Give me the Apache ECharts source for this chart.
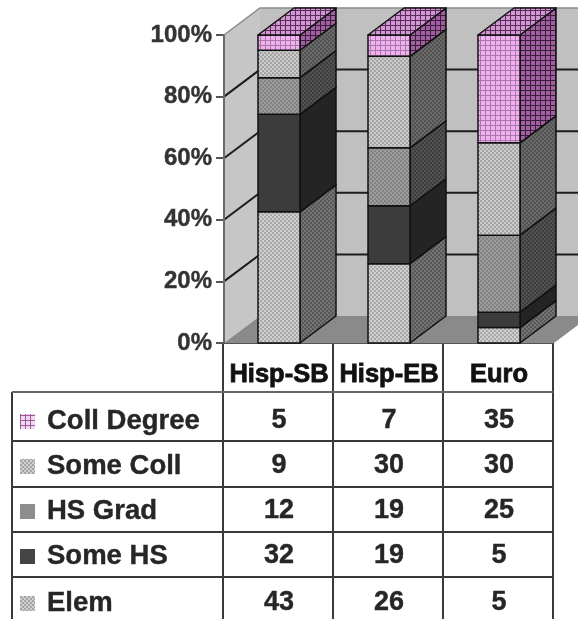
<!DOCTYPE html>
<html><head><meta charset="utf-8">
<style>html,body{margin:0;padding:0;background:#fff}#c{width:578px;height:619px;filter:blur(0.45px)}</style>
<script src="https://cdn.jsdelivr.net/npm/echarts@6/dist/echarts.min.js"></script>
</head><body><div id="c"></div>
<script>
var categories = ['Hisp-SB', 'Hisp-EB', 'Euro'];
var elem = [43, 26, 5];
var someHS = [32, 19, 5];
var hsGrad = [12, 19, 25];
var someColl = [9, 30, 30];
var collDegree = [5, 7, 35];
var yTicks = [0, 20, 40, 60, 80, 100];

function pat(bg, fg, kind) {
  var c = document.createElement('canvas');
  var n = kind === 'check' ? 5 : 4;
  c.width = n; c.height = n;
  var g = c.getContext('2d');
  g.fillStyle = bg; g.fillRect(0, 0, n, n);
  g.fillStyle = fg;
  if (kind === 'check') { g.fillRect(0, 0, n, 1); g.fillRect(0, 0, 1, n); }
  else if (kind === 'dots') { g.fillRect(0, 0, 2, 2); g.fillRect(2, 2, 2, 2); }
  return { image: c, repeat: 'repeat' };
}
var levels = [
  { name: 'Elem', values: elem, front: pat('#d0d0d0', '#a8a8a8', 'dots'), side: pat('#747474', '#585858', 'dots'), swatch: pat('#d0d0d0', '#a4a4a4', 'dots') },
  { name: 'Some HS', values: someHS, front: '#3c3c3c', side: '#242424', swatch: '#444444' },
  { name: 'HS Grad', values: hsGrad, front: pat('#9c9c9c', '#828282', 'dots'), side: pat('#525252', '#3e3e3e', 'dots'), swatch: '#8e8e8e' },
  { name: 'Some Coll', values: someColl, front: pat('#cccccc', '#a4a4a4', 'dots'), side: pat('#6a6a6a', '#525252', 'dots'), swatch: pat('#d0d0d0', '#a4a4a4', 'dots') },
  { name: 'Coll Degree', values: collDegree, front: pat('#f0b0f0', '#a878a8', 'check'), side: pat('#a060a0', '#3c1c3c', 'check'), top: pat('#d098d0', '#5a2a5a', 'check'), swatch: pat('#f0d8f0', '#9a5a9a', 'check') }
];

var GL = 224, GT = 35, GW = 330, GH = 308, DX = 36, DY = -27, BAR = 42;

function colSum(i) { return levels.reduce(function (s, l) { return s + l.values[i]; }, 0); }

function wallsRender(params, api) {
  var kids = [];
  var l = GL, r = GL + GW, t = api.coord([0, 100])[1], b = api.coord([0, 0])[1];
  var poly = function (pts, fill) { return { type: 'polygon', shape: { points: pts }, style: { fill: fill, lineWidth: 0 } }; };
  kids.push(poly([[l + DX, t + DY], [r + DX, t + DY], [r + DX, b + DY], [l + DX, b + DY]], '#c0c0c0'));
  kids.push(poly([[l, t], [l + DX, t + DY], [l + DX, b + DY], [l, b]], '#c6c6c6'));
  kids.push(poly([[l, b], [r, b], [r + DX, b + DY], [l + DX, b + DY]], '#8a8a8a'));
  yTicks.forEach(function (v) {
    if (v === 0) return;
    var y = api.coord([0, v])[1];
    var col = v === 100 ? '#8a8a8a' : '#1c1c1c', w = v === 100 ? 1.5 : 2;
    kids.push({ type: 'polyline', shape: { points: [[l, y], [l + DX, y + DY], [r + DX, y + DY]] }, style: { fill: null, stroke: col, lineWidth: w } });
  });
  kids.push({ type: 'line', shape: { x1: l, y1: t, x2: l, y2: b }, style: { stroke: '#6a6a6a', lineWidth: 2 } });
  return { type: 'group', children: kids };
}

function barRender(level, isTop) {
  return function (params, api) {
    var i = api.value(0), p0 = api.coord([i, api.value(1)]), p1 = api.coord([i, api.value(2)]);
    var x0 = p0[0] - BAR / 2, x1 = p0[0] + BAR / 2, yb = p0[1], yt = p1[1];
    var ln = { stroke: '#111', lineWidth: 1.5, lineJoin: 'round' };
    var face = function (pts, fill) { return { type: 'polygon', shape: { points: pts }, style: Object.assign({ fill: fill }, ln) }; };
    var kids = [
      face([[x1, yb], [x1 + DX, yb + DY], [x1 + DX, yt + DY], [x1, yt]], level.side),
      face([[x0, yb], [x1, yb], [x1, yt], [x0, yt]], level.front)
    ];
    if (isTop) kids.push(face([[x0, yt], [x1, yt], [x1 + DX, yt + DY], [x0 + DX, yt + DY]], level.top));
    return { type: 'group', children: kids };
  };
}

var running = categories.map(function () { return 0; });
var barSeries = levels.map(function (level, k) {
  var data = categories.map(function (c, i) {
    var s = running[i], e = s + level.values[i] / colSum(i) * 100;
    running[i] = e;
    return [i, s, e];
  });
  return { type: 'custom', name: level.name, coordinateSystem: 'cartesian2d', clip: false, z: 3,
    renderItem: barRender(level, k === levels.length - 1), encode: { x: 0, y: [1, 2] }, data: data };
});

var colEdges = [223, 333, 443, 553], rowEdges = [392, 441, 487, 532, 577], rowCenters = [421, 466, 511, 556, 603];
var TC = '#262626', LC = '#3a3a3a';
var table = [];
colEdges.forEach(function (x) {
  table.push({ type: 'line', shape: { x1: x, y1: 343, x2: x, y2: 619 }, style: { stroke: LC, lineWidth: 2 } });
});
table.push({ type: 'line', shape: { x1: 12, y1: 392, x2: 12, y2: 619 }, style: { stroke: LC, lineWidth: 2 } });
rowEdges.forEach(function (y, r) {
  table.push({ type: 'line', shape: { x1: 12, y1: y, x2: 553, y2: y }, style: { stroke: r === 0 ? '#666' : LC, lineWidth: 2 } });
});
table.push({ type: 'line', shape: { x1: 224, y1: 343, x2: 553, y2: 343 }, style: { stroke: '#555', lineWidth: 2 } });
levels.slice().reverse().forEach(function (level, r) {
  var y = rowCenters[r];
  table.push({ type: 'rect', shape: { x: 20, y: y - 7, width: 15, height: 15 }, style: { fill: level.swatch } });
  table.push({ type: 'text', style: { text: level.name, x: 47, y: y, fill: TC, stroke: TC, lineWidth: 0.4, font: 'bold 27.5px "Liberation Sans"', verticalAlign: 'middle' } });
  level.values.forEach(function (v, i) {
    table.push({ type: 'text', style: { text: String(v), x: GL + GW / 3 * (i + 0.5), y: y, fill: TC, stroke: TC, lineWidth: 0.4, font: 'bold 27px "Liberation Sans"', align: 'center', verticalAlign: 'middle' } });
  });
});

var chart = echarts.init(document.getElementById('c'), null, { renderer: 'canvas' });
chart.setOption({
  animation: false,
  backgroundColor: '#ffffff',
  grid: { left: GL, top: GT, width: GW, height: GH, containLabel: false },
  xAxis: { type: 'category', data: categories, position: 'bottom',
    axisLine: { show: false }, axisTick: { show: false },
    axisLabel: { interval: 0, margin: 19, fontFamily: 'Liberation Sans', fontWeight: 'bold', fontSize: 25.5, color: '#111', textBorderColor: '#111', textBorderWidth: 0.8 } },
  yAxis: { type: 'value', min: 0, max: 100, interval: 20,
    axisLine: { show: false }, splitLine: { show: false },
    axisTick: { show: true, length: 8, lineStyle: { color: '#555', width: 2 } },
    axisLabel: { formatter: '{value}%', margin: 12, padding: [3, 0, 0, 0], fontFamily: 'Liberation Sans', fontWeight: 'bold', fontSize: 24, color: '#333', textBorderColor: '#333', textBorderWidth: 0.4 } },
  graphic: [{ type: 'group', z: 10, children: table }],
  series: [{ type: 'custom', name: 'walls', coordinateSystem: 'cartesian2d', clip: false, z: 1, silent: true,
    renderItem: wallsRender, encode: { x: 0, y: 1 }, data: [[0, 100]] }].concat(barSeries)
});
</script></body></html>
